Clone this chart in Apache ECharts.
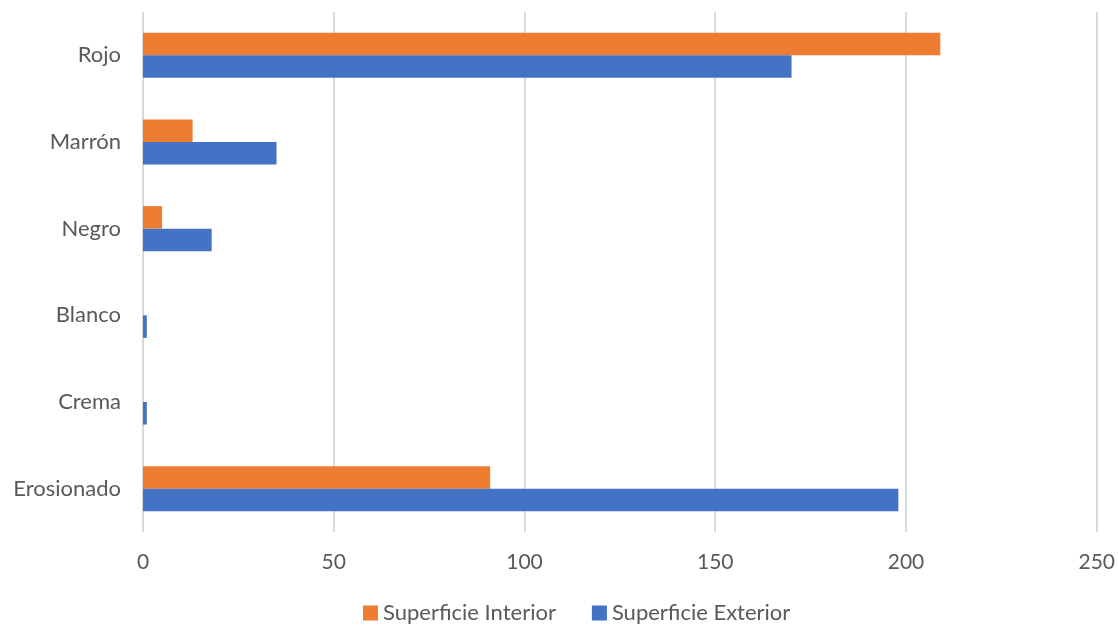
<!DOCTYPE html>
<html>
<head>
<meta charset="utf-8">
<script src="https://cdn.jsdelivr.net/npm/echarts@6/dist/echarts.min.js"></script>
<style>
  html, body { margin: 0; padding: 0; background: #ffffff; }
  #chart { width: 1118px; height: 626px; }
</style>
</head>
<body>
<div id="chart"></div>
<script>
// Categories listed bottom-to-top along the vertical axis
const categories = ['Erosionado', 'Crema', 'Blanco', 'Negro', 'Marrón', 'Rojo'];
const interiorValues = [91, 0, 0, 5, 13, 209];
const exteriorValues = [198, 1, 1, 18, 35, 170];
const xTicks = [0, 50, 100, 150, 200, 250];

const labelFont = 'Lato, "Open Sans", "Noto Sans", sans-serif';
const textColor = '#595959';

const chart = echarts.init(document.getElementById('chart'), null, { renderer: 'canvas' });

chart.setOption({
  animation: false,
  backgroundColor: '#ffffff',
  grid: { left: 143, right: 20, top: 12, bottom: 94, containLabel: false },
  legend: {
    data: ['Superficie Interior', 'Superficie Exterior'],
    bottom: -3,
    left: 358,
    itemWidth: 15,
    itemHeight: 15,
    itemGap: 36,
    icon: 'rect',
    textStyle: { fontFamily: labelFont, fontSize: 22, color: textColor }
  },
  xAxis: {
    type: 'value',
    min: xTicks[0],
    max: xTicks[xTicks.length - 1],
    interval: xTicks[1] - xTicks[0],
    axisLine: { show: false },
    axisTick: { show: false },
    splitLine: { show: true, lineStyle: { color: '#d9d9d9', width: 2 } },
    axisLabel: { fontFamily: labelFont, fontSize: 21, color: textColor, margin: 20 }
  },
  yAxis: {
    type: 'category',
    data: categories,
    axisLine: { show: false },
    axisTick: { show: false },
    axisLabel: { fontFamily: labelFont, fontSize: 22, color: textColor, margin: 22 }
  },
  series: [
    {
      name: 'Superficie Interior',
      type: 'bar',
      data: interiorValues,
      itemStyle: { color: '#ed7d31' },
      barGap: '0%',
      barCategoryGap: '48%'
    },
    {
      name: 'Superficie Exterior',
      type: 'bar',
      data: exteriorValues,
      itemStyle: { color: '#4472c4' },
      barGap: '0%',
      barCategoryGap: '48%'
    }
  ]
});
</script>
</body>
</html>
